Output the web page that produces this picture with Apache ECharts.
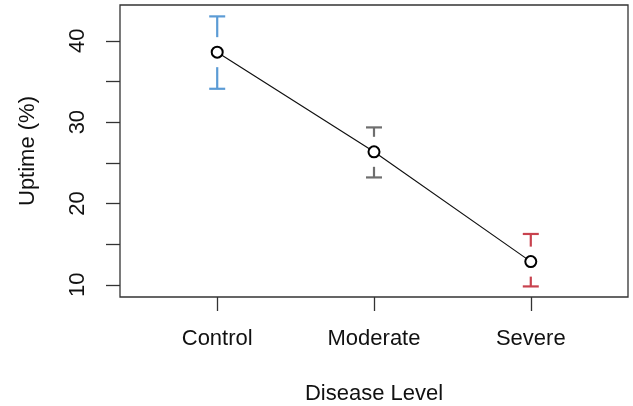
<!DOCTYPE html>
<html>
<head>
<meta charset="utf-8">
<script src="https://cdn.jsdelivr.net/npm/echarts@6/dist/echarts.min.js"></script>
<style>
  html, body { margin: 0; padding: 0; background: #fff; }
  #chart { width: 633px; height: 406px; }
</style>
</head>
<body>
<div id="chart"></div>
<script>
var categories = ['Control', 'Moderate', 'Severe'];
var xPos = [1, 2, 3];
var means = [38.6, 26.35, 12.85];
var upper = [43.0, 29.35, 16.25];
var lower = [34.1, 23.2, 9.8];
var barColors = ['#5b9bd5', '#6e6e6e', '#c8424e'];
var yTicks = [10, 15, 20, 25, 30, 35, 40];
var yLabels = [10, 20, 30, 40];

var myChart = echarts.init(document.getElementById('chart'));
var font = "'Liberation Sans', Arial, sans-serif";

var lineData = [], barData = [];
for (var i = 0; i < categories.length; i++) {
	lineData.push([xPos[i], means[i]]);
	barData.push([xPos[i], means[i], lower[i], upper[i], i]);
}

// error bars: cap to a small gap around the point, both sides
function renderBar(params, api) {
	var x = api.value(0);
	var pMean = api.coord([x, api.value(1)]);
	var pLow = api.coord([x, api.value(2)]);
	var pHigh = api.coord([x, api.value(3)]);
	var color = barColors[api.value(4)];
	var gap = 15, cap = 8;
	var style = { stroke: color, lineWidth: 2.2 };
	return {
		type: 'group',
		children: [
			{ type: 'line', shape: { x1: pMean[0], y1: pMean[1] - gap, x2: pHigh[0], y2: pHigh[1] }, style: style },
			{ type: 'line', shape: { x1: pHigh[0] - cap, y1: pHigh[1], x2: pHigh[0] + cap, y2: pHigh[1] }, style: style },
			{ type: 'line', shape: { x1: pMean[0], y1: pMean[1] + gap, x2: pLow[0], y2: pLow[1] }, style: style },
			{ type: 'line', shape: { x1: pLow[0] - cap, y1: pLow[1], x2: pLow[0] + cap, y2: pLow[1] }, style: style }
		]
	};
}

var option = {
	backgroundColor: '#fff',
	animation: false,
	grid: {
		left: 120, right: 5, top: 5, bottom: 109,
		outerBoundsMode: 'none',
		show: true,
		borderColor: '#333',
		borderWidth: 1.3,
		backgroundColor: 'transparent'
	},
	xAxis: {
		type: 'value',
		min: 0.38,
		max: 3.62,
		name: 'Disease Level',
		nameLocation: 'middle',
		nameGap: 86,
		nameTextStyle: { fontFamily: font, fontSize: 22, color: '#111' },
		axisLine: { show: false },
		splitLine: { show: false },
		axisTick: {
			show: true, length: 14,
			customValues: xPos,
			lineStyle: { color: '#333', width: 1.3 }
		},
		axisLabel: {
			customValues: xPos,
			margin: 31,
			fontFamily: font, fontSize: 22, color: '#111',
			formatter: function (v) {
				var idx = xPos.indexOf(Math.round(v));
				return idx >= 0 ? categories[idx] : '';
			}
		}
	},
	yAxis: {
		type: 'value',
		min: 8.5,
		max: 44.4,
		name: 'Uptime (%)',
		nameLocation: 'middle',
		nameGap: 81,
		nameRotate: 90,
		nameTextStyle: { fontFamily: font, fontSize: 22, color: '#111' },
		axisLine: { show: false },
		splitLine: { show: false },
		axisTick: {
			show: true, length: 14,
			customValues: yTicks,
			lineStyle: { color: '#333', width: 1.3 }
		},
		axisLabel: {
			customValues: yLabels,
			rotate: 90,
			margin: 31,
			fontFamily: font, fontSize: 22, color: '#111'
		}
	},
	series: [{
		type: 'custom',
		renderItem: renderBar,
		data: barData,
		z: 1
	}, {
		type: 'line',
		data: lineData,
		symbol: 'emptyCircle',
		symbolSize: 11,
		lineStyle: { color: '#111', width: 1.2 },
		itemStyle: { color: '#000', borderColor: '#000', borderWidth: 2.6 },
		z: 3
	}]
};
myChart.setOption(option);
</script>
</body>
</html>
